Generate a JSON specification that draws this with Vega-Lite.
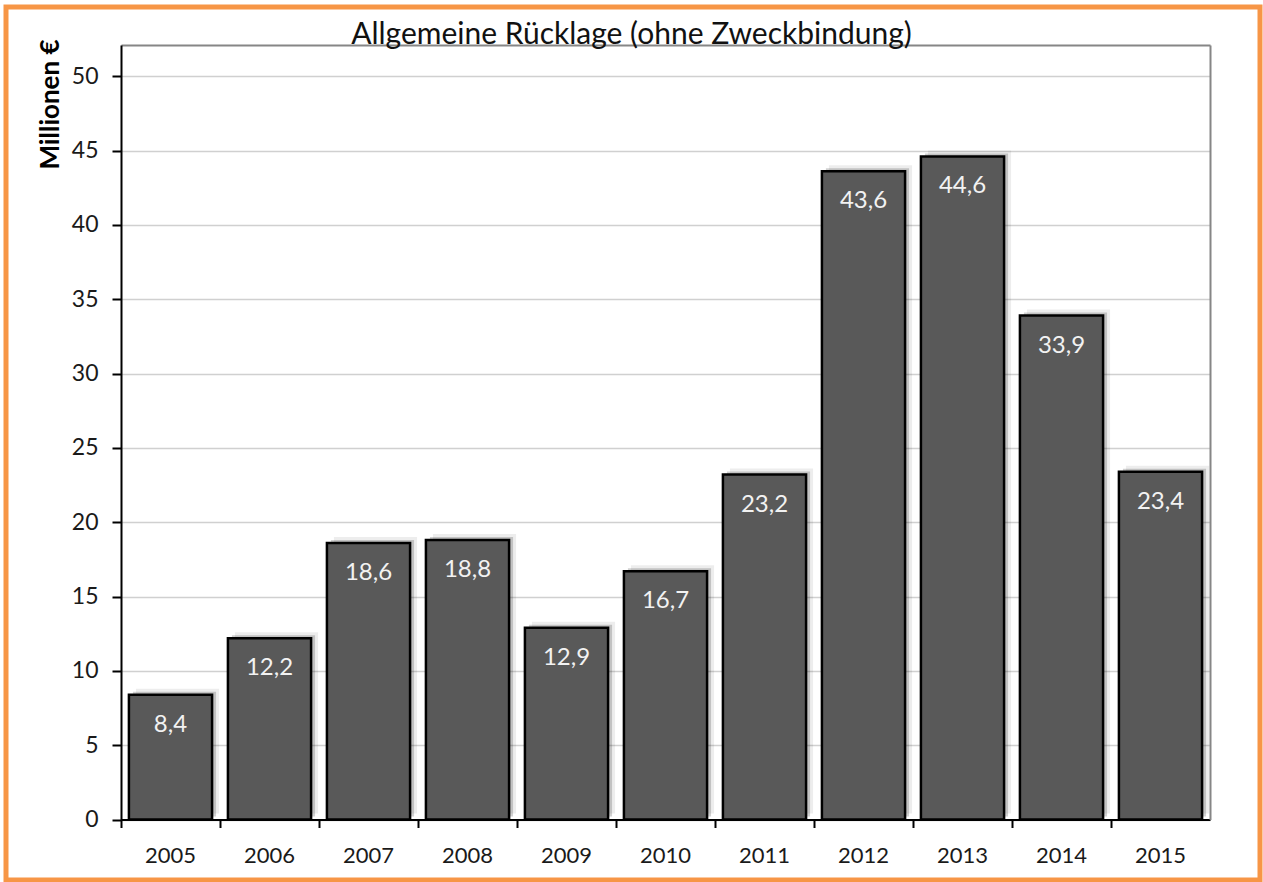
{
  "$schema": "https://vega.github.io/schema/vega-lite/v6.json",
  "autosize": {"type": "none"},
  "padding": {"left": 6, "top": 7, "right": 3, "bottom": 2},
  "width": 1254,
  "height": 873,
  "background": "white",
  "config": {
    "view": {"stroke": "#F79646", "strokeWidth": 5, "fill": "white"},
    "locale": {"number": {"decimal": ",", "thousands": ".", "grouping": [3], "currency": ["", " €"]}},
    "axis": {"labelFont": "Lato", "titleFont": "Lato"}
  },
  "data": {
    "values": [
      {"year": "2005", "value": 8.4},
      {"year": "2006", "value": 12.2},
      {"year": "2007", "value": 18.6},
      {"year": "2008", "value": 18.8},
      {"year": "2009", "value": 12.9},
      {"year": "2010", "value": 16.7},
      {"year": "2011", "value": 23.2},
      {"year": "2012", "value": 43.6},
      {"year": "2013", "value": 44.6},
      {"year": "2014", "value": 33.9},
      {"year": "2015", "value": 23.4}
    ]
  },
  "layer": [
    {
      "mark": {"type": "bar", "color": "#000000", "opacity": 0.07, "xOffset": 7, "yOffset": -6},
      "encoding": {
        "x": {"field": "year", "type": "ordinal", "axis": null},
        "y": {"field": "value", "type": "quantitative", "axis": null}
      }
    },
    {
      "mark": {"type": "bar", "color": "#000000", "opacity": 0.18, "xOffset": 4, "yOffset": -3},
      "encoding": {
        "x": {
          "field": "year", "type": "ordinal",
          "axis": {
            "orient": "top", "offset": -38, "domain": true, "domainColor": "#868686", "domainWidth": 2,
            "ticks": false, "labels": false, "grid": false,
            "title": "Allgemeine Rücklage (ohne Zweckbindung)",
            "titleFont": "Lato", "titleFontSize": 30, "titleFontWeight": "normal", "titleColor": "#111111",
            "titleAlign": "center", "titleBaseline": "alphabetic", "titleAngle": 0,
            "titleX": 625, "titleY": -2
          }
        },
        "y": {
          "field": "value", "type": "quantitative",
          "axis": {"orient": "right", "offset": -50, "domain": true, "domainColor": "#868686", "domainWidth": 2, "ticks": false, "labels": false, "grid": false, "title": null}
        }
      }
    },
    {
      "mark": {"type": "bar", "color": "#595959", "stroke": "#000000", "strokeWidth": 2.5},
      "encoding": {
        "x": {
          "field": "year", "type": "ordinal",
          "scale": {"range": [115, 1204], "paddingInner": 0.16, "paddingOuter": 0.08},
          "axis": {"orient": "bottom", "offset": -60.5, "bandPosition": -0.095, "domain": true, "domainColor": "#000000", "domainWidth": 2, "ticks": true, "tickColor": "#000000", "tickWidth": 2, "tickSize": 8, "labels": false, "grid": false, "title": null}
        },
        "y": {
          "field": "value", "type": "quantitative",
          "scale": {"domain": [0, 52.1], "range": [812.5, 38], "nice": false, "zero": true},
          "axis": {
            "orient": "left", "offset": -115,
            "values": [0, 5, 10, 15, 20, 25, 30, 35, 40, 45, 50],
            "domain": true, "domainColor": "#000000", "domainWidth": 2,
            "ticks": true, "tickColor": "#000000", "tickWidth": 2, "tickSize": 9,
            "labelFontSize": 23, "labelColor": "#1a1a1a", "labelPadding": 14,
            "grid": true, "gridColor": "#d0d0d0", "gridWidth": 1.5,
            "title": "Millionen €", "titleFontSize": 26, "titleFontWeight": "bold", "titleColor": "#000000",
            "titleAngle": 270, "titleAlign": "center", "titleBaseline": "alphabetic",
            "titleX": -63, "titleY": 97
          }
        }
      }
    },
    {
      "mark": {"type": "text", "baseline": "middle", "dy": 30, "font": "Lato", "fontSize": 24, "color": "#f2f2f2"},
      "encoding": {
        "x": {
          "field": "year", "type": "ordinal",
          "axis": {"orient": "bottom", "offset": -60.5, "bandPosition": 0.5, "domain": false, "ticks": false, "tickSize": 0, "labels": true, "labelFontSize": 22, "labelColor": "#1a1a1a", "labelPadding": 26, "labelAngle": 0, "grid": false, "title": null}
        },
        "y": {"field": "value", "type": "quantitative", "axis": null},
        "text": {"field": "value", "type": "quantitative", "format": ".1f"}
      }
    }
  ],
  "resolve": {"axis": {"x": "independent", "y": "independent"}}
}
